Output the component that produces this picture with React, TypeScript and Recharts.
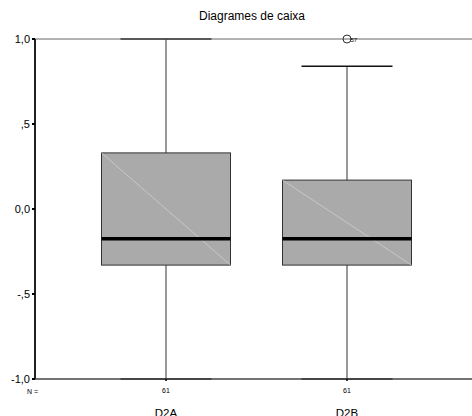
import React from "react";
import {
  ComposedChart,
  Bar,
  Scatter,
  XAxis,
  YAxis,
  ReferenceLine,
} from "recharts";

// Box plot summaries per variable
const CATEGORIES = ["D2A", "D2B"];
const COUNTS = [61, 61];
const LOWER_WHISKER = [-1.0, -1.0];
const Q1 = [-0.33, -0.33];
const MEDIAN = [-0.175, -0.175];
const Q3 = [0.33, 0.17];
const UPPER_WHISKER = [1.0, 0.84];

// Outlying cases (category, value, case number)
const OUTLIER_CATS = ["D2B"];
const OUTLIER_VALUES = [1.0];
const OUTLIER_IDS = ["57"];

const Y_TICKS = [-1, -0.5, 0, 0.5, 1];

const FONT = "Arial, 'Liberation Sans', Helvetica, sans-serif";
const BOX_WIDTH = 129;
const CAP_WIDTH = 91;

const rows = CATEGORIES.map((name, i) => ({
  name,
  n: COUNTS[i],
  whisker: [LOWER_WHISKER[i], UPPER_WHISKER[i]],
  box: [Q1[i], Q3[i]],
  median: MEDIAN[i],
}));

const outliers = OUTLIER_CATS.map((name, i) => ({
  name,
  value: OUTLIER_VALUES[i],
  id: OUTLIER_IDS[i],
}));

// SPSS style: ",5" / "-1,0"
const fmtTick = (v: number) => {
  const s = v.toFixed(1).replace(".", ",");
  if (Math.abs(v) < 1 && v !== 0) return s.replace("0,", ",");
  return s;
};

const WhiskerShape = (props: any) => {
  const { x, y, width, height } = props;
  const cx = x + width / 2;
  const top = Math.min(y, y + height);
  const bottom = Math.max(y, y + height);
  return (
    <g>
      <line x1={cx} x2={cx} y1={top} y2={bottom} stroke="#333" strokeWidth={1} />
      <line x1={cx - CAP_WIDTH / 2} x2={cx + CAP_WIDTH / 2} y1={top} y2={top} stroke="#111" strokeWidth={1.5} />
      <line x1={cx - CAP_WIDTH / 2} x2={cx + CAP_WIDTH / 2} y1={bottom} y2={bottom} stroke="#111" strokeWidth={1.5} />
    </g>
  );
};

const BoxShape = (props: any) => {
  const { x, y, width, height } = props;
  const top = Math.min(y, y + height);
  const h = Math.abs(height);
  return (
    <g>
      <rect x={x} y={top} width={width} height={h} fill="#aaaaaa" stroke="#333" strokeWidth={1} />
      <line x1={x} y1={top} x2={x + width} y2={top + h} stroke="#d4d4d4" strokeWidth={0.7} />
    </g>
  );
};

const MedianShape = (props: any) => {
  const { cx, cy } = props;
  return (
    <line
      x1={cx - BOX_WIDTH / 2}
      x2={cx + BOX_WIDTH / 2}
      y1={cy}
      y2={cy}
      stroke="#000"
      strokeWidth={3.5}
    />
  );
};

const OutlierShape = (props: any) => {
  const { cx, cy, payload } = props;
  return (
    <g>
      <circle cx={cx} cy={cy} r={4} fill="none" stroke="#000" strokeWidth={0.8} />
      <text x={cx + 3.5} y={cy + 2.5} fontSize={6} fontFamily={FONT} fill="#000">
        {payload.id}
      </text>
    </g>
  );
};

const CategoryTick = (props: any) => {
  const { x, y, payload, index } = props;
  return (
    <g>
      <text x={x} y={y + 10} textAnchor="middle" fontSize={7} fontFamily={FONT} fill="#000">
        {rows[index]?.n}
      </text>
      <text x={x} y={y + 34} textAnchor="middle" fontSize={11.5} fontFamily={FONT} fill="#000">
        {payload.value}
      </text>
    </g>
  );
};

const axisPadding = { left: 40.5, right: 40.5 };

export default function App() {
  return (
    <div
      style={{
        position: "absolute",
        left: 0,
        top: 0,
        width: 472,
        height: 416,
        overflow: "hidden",
        background: "#fff",
        fontFamily: FONT,
      }}
    >
      <div
        style={{
          position: "absolute",
          left: 0,
          width: 504,
          top: 9,
          textAlign: "center",
          fontSize: 12,
          color: "#000",
        }}
      >
        Diagrames de caixa
      </div>
      <div style={{ position: "absolute", left: 27, top: 388, fontSize: 7, color: "#000" }}>N =</div>
      <ComposedChart
        width={490}
        height={440}
        data={rows}
        margin={{ top: 39, right: 12, bottom: 31, left: 0 }}
      >
        <XAxis
          xAxisId="main"
          dataKey="name"
          type="category"
          allowDuplicatedCategory={false}
          padding={axisPadding}
          height={30}
          axisLine={{ stroke: "#444", strokeWidth: 1.5 }}
          tickLine={{ stroke: "#000", strokeWidth: 1.5 }}
          tickSize={2}
          tick={<CategoryTick />}
          interval={0}
        />
        <XAxis xAxisId="w" dataKey="name" type="category" padding={axisPadding} height={0} hide />
        <XAxis xAxisId="b" dataKey="name" type="category" padding={axisPadding} height={0} hide />
        <YAxis
          type="number"
          domain={[-1, 1]}
          ticks={Y_TICKS}
          width={35}
          interval={0}
          tickFormatter={fmtTick}
          axisLine={{ stroke: "#222", strokeWidth: 2 }}
          tickLine={{ stroke: "#000", strokeWidth: 2 }}
          tickSize={3}
          tickMargin={2}
          tick={{ fontSize: 11, fill: "#000", fontFamily: FONT }}
        />
        <ReferenceLine xAxisId="main" y={1} stroke="#666" strokeWidth={1} />
        <Bar
          xAxisId="w"
          dataKey="whisker"
          barSize={CAP_WIDTH}
          shape={<WhiskerShape />}
          isAnimationActive={false}
        />
        <Bar
          xAxisId="b"
          dataKey="box"
          barSize={BOX_WIDTH}
          shape={<BoxShape />}
          isAnimationActive={false}
        />
        <Scatter
          xAxisId="main"
          dataKey="median"
          shape={<MedianShape />}
          isAnimationActive={false}
        />
        <Scatter
          xAxisId="main"
          data={outliers}
          dataKey="value"
          shape={<OutlierShape />}
          isAnimationActive={false}
        />
      </ComposedChart>
    </div>
  );
}
